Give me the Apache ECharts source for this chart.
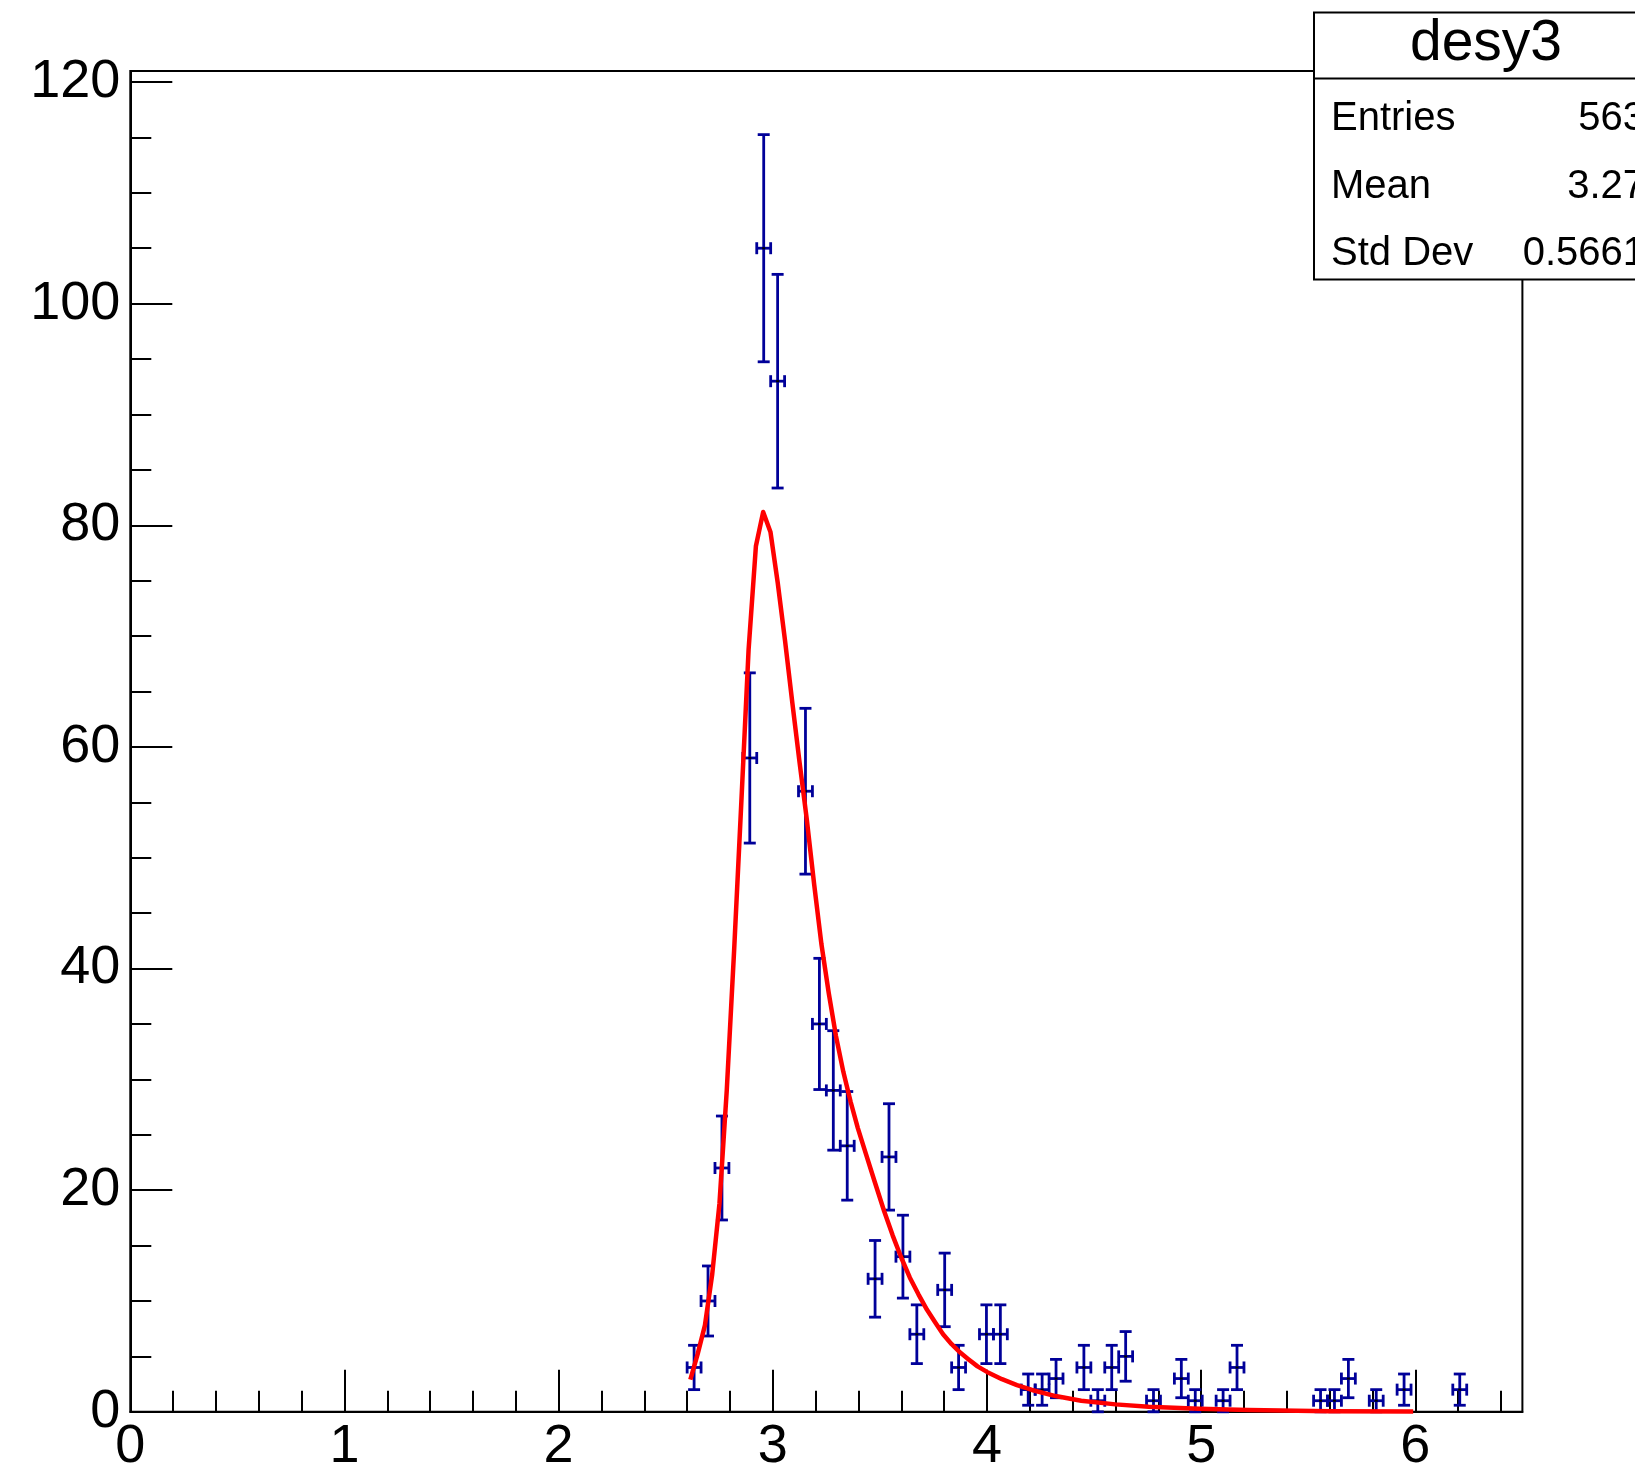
<!DOCTYPE html>
<html>
<head>
<meta charset="utf-8">
<script src="https://cdn.jsdelivr.net/npm/echarts@6/dist/echarts.min.js"></script>
<style>
html,body{margin:0;padding:0;background:#fff;}
#chart{width:1635px;height:1470px;}
</style>
</head>
<body>
<div id="chart"></div>
<script>
// ---- data ----
const binCenters = [2.6325, 2.6975, 2.7625, 2.8925, 2.9575, 3.0225, 3.1525, 3.2175, 3.2825, 3.3475,
  3.4775, 3.5425, 3.6075, 3.6725, 3.8025, 3.8675, 3.9975, 4.0625, 4.1925, 4.2575,
  4.3225, 4.4525, 4.5175, 4.5825, 4.6475, 4.7775, 4.9075, 4.9725, 5.1025, 5.1675,
  5.5575, 5.6225, 5.6875, 5.8175, 5.9475, 6.2075];
const counts = [4, 10, 22, 59, 105, 93, 56, 35, 29, 24,
  12, 23, 14, 7, 11, 4, 7, 7, 2, 2,
  3, 4, 1, 4, 5, 1, 3, 1, 1, 4,
  1, 1, 3, 1, 2, 2];
const errors = [2.0, 3.16, 4.69, 7.68, 10.25, 9.64, 7.48, 5.92, 5.39, 4.9,
  3.46, 4.8, 3.74, 2.65, 3.32, 2.0, 2.65, 2.65, 1.41, 1.41,
  1.73, 2.0, 1.0, 2.0, 2.24, 1.0, 1.73, 1.0, 1.0, 2.0,
  1.0, 1.0, 1.73, 1.0, 1.41, 1.41];
const binHalfWidth = 0.0325;

const fitX = [2.615, 2.649, 2.683, 2.717, 2.751, 2.785, 2.819, 2.853, 2.887, 2.921,
  2.955, 2.989, 3.023, 3.057, 3.091, 3.125, 3.159, 3.193, 3.227, 3.261,
  3.295, 3.329, 3.363, 3.397, 3.431, 3.475, 3.52, 3.56, 3.6, 3.64,
  3.68, 3.72, 3.757, 3.795, 3.835, 3.875, 3.913, 3.956, 4.0, 4.07,
  4.14, 4.21, 4.32, 4.44, 4.6, 4.755, 4.99, 5.22, 5.6, 5.99];
const fitY = [2.9, 5.2, 7.8, 12.4, 18.8, 29.0, 41.5, 55.0, 68.8, 78.1,
  81.2, 79.4, 74.8, 69.6, 64.0, 58.6, 53.4, 47.6, 42.2, 37.8,
  33.9, 30.7, 28.0, 25.6, 23.5, 20.8, 18.1, 15.9, 13.9, 12.1,
  10.6, 9.2, 8.1, 7.0, 6.1, 5.35, 4.75, 4.1, 3.6, 2.94,
  2.41, 1.97, 1.42, 1.0, 0.67, 0.46, 0.27, 0.16, 0.06, 0.02];

const xMajorTicks = [0, 1, 2, 3, 4, 5, 6];
const xMinorTicks = [0.2, 0.4, 0.6, 0.8, 1.2, 1.4, 1.6, 1.8, 2.2, 2.4, 2.6, 2.8,
  3.2, 3.4, 3.6, 3.8, 4.2, 4.4, 4.6, 4.8, 5.2, 5.4, 5.6, 5.8, 6.2, 6.4];
const yMajorTicks = [0, 20, 40, 60, 80, 100, 120];
const yMinorTicks = [5, 10, 15, 25, 30, 35, 45, 50, 55, 65, 70, 75, 85, 90, 95, 105, 110, 115];

const statTitle = 'desy3';
const statNames = ['Entries', 'Mean', 'Std Dev'];
const statValues = ['563', '3.27', '0.5661'];

// ---- chart ----
const FONT = '"Liberation Sans", Arial, Helvetica, sans-serif';
const chart = echarts.init(document.getElementById('chart'), null, {renderer: 'canvas'});

const axisLineStyle = {color: '#000', width: 2};
function xAxisDef(ticks, len, withLine, withLabels) {
  return {
    type: 'value', min: 0, max: 6.5, position: 'bottom', gridIndex: 0,
    axisLine: {show: withLine, onZero: false, lineStyle: axisLineStyle},
    axisTick: {show: true, inside: true, length: len, customValues: ticks, lineStyle: {color: '#000', width: 2}},
    axisLabel: withLabels ? {show: true, customValues: ticks, fontSize: 54, color: '#000', fontFamily: FONT, margin: 8,
      formatter: v => String(v)} : {show: false},
    splitLine: {show: false}
  };
}
function yAxisDef(ticks, len, withLine, withLabels) {
  return {
    type: 'value', min: 0, max: 121, position: 'left', gridIndex: 0,
    axisLine: {show: withLine, onZero: false, lineStyle: axisLineStyle},
    axisTick: {show: true, inside: true, length: len, customValues: ticks, lineStyle: {color: '#000', width: 2}},
    axisLabel: withLabels ? {show: true, customValues: ticks, fontSize: 54, color: '#000', fontFamily: FONT, margin: 10,
      formatter: v => String(v)} : {show: false},
    splitLine: {show: false}
  };
}

const errColor = '#000099';
const statLeft = 1314, statTop = 12.5, statW = 344, statH = 267, statSep = 78.5;
const statRowY = [119, 187, 254];

const option = {
  animation: false,
  backgroundColor: '#fff',
  grid: {left: 130.3, right: 112.6, top: 70.9, bottom: 58.2, containLabel: false, outerBoundsMode: 'none',
    show: true, borderColor: '#000', borderWidth: 2, backgroundColor: 'transparent'},
  xAxis: [xAxisDef(xMajorTicks, 42, true, true), xAxisDef(xMinorTicks, 21, false, false)],
  yAxis: [yAxisDef(yMajorTicks, 42, true, true), yAxisDef(yMinorTicks, 21, false, false)],
  series: [
    {
      type: 'custom', xAxisIndex: 0, yAxisIndex: 0, z: 3, clip: false,
      data: binCenters.map((x, i) => [x, counts[i], errors[i]]),
      renderItem: function (params, api) {
        const x = api.value(0), y = api.value(1), e = api.value(2);
        const c = api.coord([x, y]);
        const top = api.coord([x, y + e]);
        const bot = api.coord([x, Math.max(0, y - e)]);
        const l = api.coord([x - binHalfWidth, y]);
        const r = api.coord([x + binHalfWidth, y]);
        const cap = 6;
        const st = {stroke: errColor, lineWidth: 2.8};
        const ln = (x1, y1, x2, y2) => ({type: 'line', shape: {x1, y1, x2, y2}, style: st});
        return {
          type: 'group',
          children: [
            ln(c[0], top[1], c[0], bot[1]),
            ln(c[0] - cap, top[1], c[0] + cap, top[1]),
            ln(c[0] - cap, bot[1], c[0] + cap, bot[1]),
            ln(l[0], c[1], r[0], c[1]),
            ln(l[0], c[1] - cap, l[0], c[1] + cap),
            ln(r[0], c[1] - cap, r[0], c[1] + cap),
            {type: 'rect', shape: {x: c[0] - 1.5, y: c[1] - 1, width: 3, height: 2}, style: {fill: '#000'}}
          ]
        };
      }
    },
    {
      type: 'line', xAxisIndex: 0, yAxisIndex: 0, z: 4,
      data: fitX.map((x, i) => [x, fitY[i]]),
      showSymbol: false, symbol: 'none', smooth: false, clip: false,
      lineStyle: {color: '#ff0000', width: 4.5, join: 'round'}
    }
  ],
  graphic: [
    {type: 'rect', z: 100, shape: {x: statLeft, y: statTop, width: statW, height: statH},
      style: {fill: '#fff', stroke: '#000', lineWidth: 2}},
    {type: 'line', z: 101, shape: {x1: statLeft, y1: statSep, x2: statLeft + statW, y2: statSep},
      style: {stroke: '#000', lineWidth: 2}},
    {type: 'text', z: 102, style: {text: statTitle, x: statLeft + statW / 2, y: 44, align: 'center', verticalAlign: 'middle',
      fontSize: 57, fontFamily: FONT, fill: '#000'}}
  ].concat(statNames.map((n, i) => ({type: 'text', z: 102,
      style: {text: n, x: 1331, y: statRowY[i], align: 'left', verticalAlign: 'middle', fontSize: 40, fontFamily: FONT, fill: '#000'}})))
   .concat(statValues.map((v, i) => ({type: 'text', z: 102,
      style: {text: v, x: 1645, y: statRowY[i], align: 'right', verticalAlign: 'middle', fontSize: 40, fontFamily: FONT, fill: '#000'}})))
};
chart.setOption(option);
</script>
</body>
</html>
